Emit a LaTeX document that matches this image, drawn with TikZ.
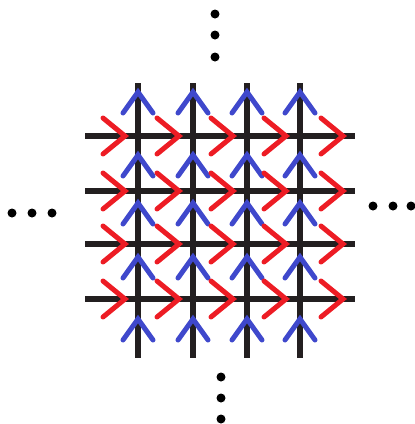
\documentclass[tikz,border=0pt]{standalone}
\definecolor{gridblack}{HTML}{231F20}
\definecolor{chevred}{HTML}{ED1C24}
\definecolor{chevblue}{HTML}{3F48CC}
\tikzset{
  gridline/.style={gridblack,line width=6pt},
  redchev/.style={chevred,line width=5pt,line cap=round,line join=miter},
  bluechev/.style={chevblue,line width=5pt,line cap=round,line join=miter},
  dotmark/.style={fill=black,draw=none}
}
\begin{document}
\begin{tikzpicture}[x=1pt,y=-1pt]
\useasboundingbox (0,0) rectangle (415,424);
% grid lines
\foreach \gx in {138,193,247,300}
  \draw[gridline] (\gx,83) -- (\gx,358);
\foreach \gy in {136,191,244,299}
  \draw[gridline] (85,\gy) -- (355,\gy);
% blue chevrons (pointing up) on the vertical lines
\foreach \gx in {138,193,247,300}
  \foreach \ay in {92,155,203,257,319}
    \draw[bluechev] (\gx-15,\ay+21) -- (\gx,\ay) -- (\gx+15,\ay+21);
% red chevrons (pointing right) on the horizontal lines
\foreach \gy in {136,191,244,299}
  \foreach \tx in {125,179,233,286,343}
    \draw[redchev] (\tx-22,\gy-18) -- (\tx,\gy) -- (\tx-22,\gy+18);
% ellipsis dots
\foreach \dy in {14,35,57}
  \fill[dotmark] (215,\dy) circle (4.5);
\foreach \dy in {377,398,419}
  \fill[dotmark] (221,\dy) circle (4.5);
\foreach \dx in {12,32,52}
  \fill[dotmark] (\dx,213) circle (4.5);
\foreach \dx in {373,393,411}
  \fill[dotmark] (\dx,206) circle (4.5);
\end{tikzpicture}
\end{document}
